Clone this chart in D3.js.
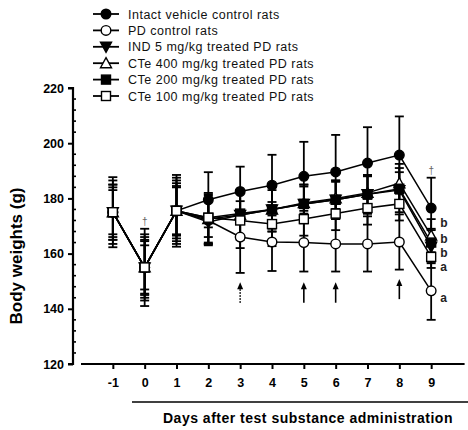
<!DOCTYPE html>
<html>
<head>
<meta charset="utf-8">
<script src="https://cdn.jsdelivr.net/npm/d3@7"></script>
<style>
  body { margin: 0; background: #fff; }
  svg { font-family: Arial, "Liberation Sans", sans-serif; }
</style>
</head>
<body>
<svg class="chart" width="468" height="430"></svg>
<script>
var days = [-1, 0, 1, 2, 3, 4, 5, 6, 7, 8, 9];
var seriesNames = ["Intact vehicle control rats", "PD control rats", "IND 5 mg/kg treated PD rats",
    "CTe 400 mg/kg treated PD rats", "CTe 200 mg/kg treated PD rats", "CTe 100 mg/kg treated PD rats"];
var intactMean = [175, 155, 175.5, 179.5, 182.5, 184.8, 188, 189.6, 192.8, 195.7, 176.5];
var pdMean     = [175, 155, 175.5, 172, 166, 164.2, 164, 163.5, 163.5, 164.2, 146.5];
var indMean    = [175, 155, 175.5, 171.5, 174, 176, 178, 179.5, 181.5, 183, 162.5];
var cte400Mean = [175, 155, 175.5, 172.5, 174, 176, 178.3, 180, 182, 185.5, 166.5];
var cte200Mean = [175, 155, 175.5, 173, 174.5, 176, 178, 179.5, 181.5, 183.5, 164];
var cte100Mean = [175, 155, 175.5, 173, 172, 170.7, 172.5, 174.5, 176.5, 178, 158.8];
var intactSD = [12.7, 14, 13, 10, 9, 11, 12.5, 13.4, 13, 14, 11];
var pdSD     = [10, 8, 12, 9, 13, 10.5, 10.5, 10, 10, 10, 10.5];
var indSD    = [9, 11, 10, 8, 9, 8, 7, 7, 7, 8, 6];
var cte400SD = [11.5, 10, 11, 9, 8, 7, 6, 6, 6, 7, 6];
var cte200SD = [8, 12, 9, 7, 8, 8, 7, 7, 7, 6, 5];
var cte100SD = [10, 9.5, 8.5, 9, 10, 8, 6, 6, 6, 6, 4];
var yTicks = [120, 140, 160, 180, 200, 220];
var sigLetters = ["b", "b", "b", "a", "a"];
var sigLetterY = [171, 165.3, 160.2, 155.1, 143.9];
var daggerDays = [0, 9];
var daggerY = [170.5, 189];
var arrowDays = [3, 5, 6, 8];
var arrowDotted = [true, false, false, false];

var svg = d3.select(".chart");
var x = d3.scaleLinear().domain([-2, 10]).range([81, 463]);
var y = d3.scaleLinear().domain([120, 220]).range([364, 88]);

var groups = [
    {name: seriesNames[0], mean: intactMean, sd: intactSD, shape: "circle", fill: "#000"},
    {name: seriesNames[1], mean: pdMean, sd: pdSD, shape: "circle", fill: "#fff"},
    {name: seriesNames[2], mean: indMean, sd: indSD, shape: "down", fill: "#000"},
    {name: seriesNames[3], mean: cte400Mean, sd: cte400SD, shape: "up", fill: "#fff"},
    {name: seriesNames[4], mean: cte200Mean, sd: cte200SD, shape: "square", fill: "#000"},
    {name: seriesNames[5], mean: cte100Mean, sd: cte100SD, shape: "square", fill: "#fff"}
];

function drawMarker(sel, shape, fill) {
    if (shape === "circle") {
        sel.append("circle").attr("r", 4.8);
    } else if (shape === "square") {
        sel.append("rect").attr("x", -4.5).attr("y", -4.5).attr("width", 9).attr("height", 9);
    } else if (shape === "up") {
        sel.append("path").attr("d", "M0,-5.5L5.5,4.5L-5.5,4.5Z");
    } else {
        sel.append("path").attr("d", "M0,5.5L5.5,-4.5L-5.5,-4.5Z");
    }
    sel.selectAll("*").attr("fill", fill).attr("stroke", "#000").attr("stroke-width", 1.4);
}

// axes
var yAxis = d3.axisLeft(y).tickValues(yTicks).tickSize(5).tickPadding(4);
var gy = svg.append("g").attr("transform", "translate(73,0)").call(yAxis);
gy.select(".domain").attr("stroke-width", 2.2).attr("d", "M-5," + y(220) + "H0V" + y(120) + "H-5");
gy.selectAll(".tick line").attr("stroke-width", 2);
gy.selectAll("text").attr("font-size", 12.5).attr("font-weight", "bold").attr("fill", "#000");
var minorY = d3.range(120, 221, 4).filter(function (v) { return v % 20 !== 0; });
gy.selectAll(".minor").data(minorY).enter().append("line")
    .attr("x1", 0).attr("x2", 3).attr("y1", function (d) { return y(d); }).attr("y2", function (d) { return y(d); })
    .attr("stroke", "#000").attr("stroke-width", 1.6);

var xAxis = d3.axisBottom(x).tickValues(days).tickSize(5).tickPadding(9)
    .tickFormat(function (d) { return String(d); });
var gx = svg.append("g").attr("transform", "translate(0," + y(120) + ")").call(xAxis);
gx.select(".domain").attr("stroke-width", 2.2).attr("d", "M" + x(-2) + ",0H" + x(10.05));
gx.selectAll(".tick line").attr("stroke-width", 2);
gx.selectAll("text").attr("font-size", 12.5).attr("font-weight", "bold").attr("fill", "#000");

svg.append("line").attr("x1", 132).attr("x2", 468).attr("y1", 402).attr("y2", 402)
    .attr("stroke", "#000").attr("stroke-width", 1.5);
svg.append("text").attr("x", 308).attr("y", 423).attr("text-anchor", "middle")
    .attr("font-size", 14).attr("letter-spacing", 0.5).attr("font-weight", "bold")
    .text("Days after test substance administration");
svg.append("text").attr("transform", "translate(22,256) rotate(-90)").attr("text-anchor", "middle")
    .attr("font-size", 17).attr("font-weight", "bold").text("Body weights (g)");

// error bars
var plot = svg.append("g");
groups.forEach(function (g) {
    var eb = plot.append("g").attr("stroke", "#000").attr("stroke-width", 1.8);
    days.forEach(function (d, i) {
        var top = y(g.mean[i] + g.sd[i]), bot = y(g.mean[i] - g.sd[i]), cx = x(d);
        eb.append("line").attr("x1", cx).attr("x2", cx).attr("y1", top).attr("y2", bot);
        eb.append("line").attr("x1", cx - 4.5).attr("x2", cx + 4.5).attr("y1", top).attr("y2", top);
        eb.append("line").attr("x1", cx - 4.5).attr("x2", cx + 4.5).attr("y1", bot).attr("y2", bot);
    });
});

// lines
var line = d3.line().x(function (d) { return x(d[0]); }).y(function (d) { return y(d[1]); });
groups.forEach(function (g) {
    plot.append("path").datum(days.map(function (d, i) { return [d, g.mean[i]]; }))
        .attr("d", line).attr("fill", "none").attr("stroke", "#000").attr("stroke-width", 1.5);
});

// markers
groups.forEach(function (g) {
    days.forEach(function (d, i) {
        var m = plot.append("g").attr("transform", "translate(" + x(d) + "," + y(g.mean[i]) + ")");
        drawMarker(m, g.shape, g.fill);
    });
});

// significance letters
svg.selectAll(".sig").data(sigLetters).enter().append("text")
    .attr("x", x(9) + 9).attr("y", function (d, i) { return y(sigLetterY[i]) + 4; })
    .attr("font-size", 12).attr("font-weight", "bold").attr("fill", "#222").text(function (d) { return d; });

svg.selectAll(".dag").data(daggerDays).enter().append("text")
    .attr("x", function (d) { return x(d); }).attr("y", function (d, i) { return y(daggerY[i]); })
    .attr("text-anchor", "middle").attr("font-size", 10).attr("fill", "#666").text("\u2020");

// arrows
arrowDays.forEach(function (d, i) {
    var base = d === 8 ? 143.5 : 142.2, tip = d === 8 ? 150.8 : 149.6;
    var a = svg.append("g");
    a.append("line").attr("x1", x(d)).attr("x2", x(d)).attr("y1", y(base)).attr("y2", y(tip) + 5)
        .attr("stroke", "#000").attr("stroke-width", 1.6)
        .attr("stroke-dasharray", arrowDotted[i] ? "1.5,1.5" : null);
    a.append("path").attr("d", "M" + x(d) + "," + y(tip) + "l-3,7h6Z").attr("fill", "#000");
});

// legend
var legend = svg.append("g");
groups.forEach(function (g, i) {
    var ly = 14 + i * 16.4;
    var row = legend.append("g").attr("transform", "translate(0," + ly + ")");
    row.append("line").attr("x1", 93).attr("x2", 119).attr("stroke", "#000").attr("stroke-width", 1.8);
    drawMarker(row.append("g").attr("transform", "translate(106,0)"), g.shape, g.fill);
    row.append("text").attr("x", 128).attr("y", 4.5).attr("font-size", 12.5).attr("letter-spacing", 0.5)
        .attr("fill", "#111").text(g.name);
});
</script>
</body>
</html>
